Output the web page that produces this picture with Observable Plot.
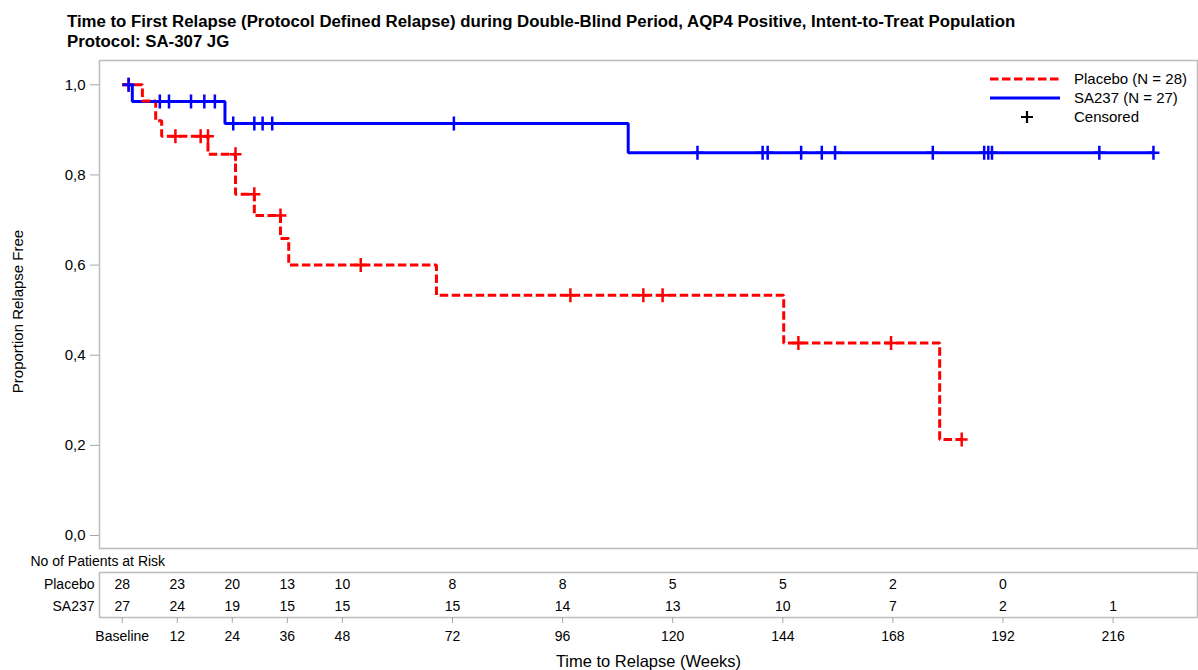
<!DOCTYPE html>
<html>
<head>
<meta charset="utf-8">
<script src="https://cdn.jsdelivr.net/npm/d3@7"></script>
<script src="https://cdn.jsdelivr.net/npm/@observablehq/plot@0.6"></script>
<style>
  body { margin: 0; background: #fff; }
  #wrap { position: relative; width: 1198px; height: 670px; overflow: hidden; background: #fff;
          font-family: "Liberation Sans", Arial, sans-serif; color: #000; }
  #title { position: absolute; left: 67px; top: 12px; font-weight: bold; font-size: 16.8px; line-height: 20px; white-space: nowrap; }
  #km { position: absolute; left: 0; top: 50px; }
  #risk { position: absolute; left: 0; top: 552px; }
  #legend { position: absolute; left: 980px; top: 65px; }
</style>
</head>
<body>
<div id="wrap">
  <div id="title">Time to First Relapse (Protocol Defined Relapse) during Double-Blind Period, AQP4 Positive, Intent-to-Treat Population<br>Protocol: SA-307 JG</div>
  <div id="km"></div>
  <div id="risk"></div>
  <div id="legend"></div>
</div>
<script>
// ---- Kaplan-Meier step data ----
const placeboTimes = [0, 4.4, 7.3, 8.6, 18.7, 24.7, 28.8, 34.5, 36.3, 68.5, 144.2, 178.2, 183.0];
const placeboSurv  = [1.000, 0.964, 0.920, 0.886, 0.846, 0.757, 0.710, 0.659, 0.600, 0.533, 0.427, 0.213, 0.213];
const sa237Times   = [0, 2.2, 22.4, 110.3, 224.8];
const sa237Surv    = [1.000, 0.963, 0.914, 0.849, 0.849];

// ---- Censored observations ----
const placeboCensTimes = [1.4, 11.6, 17.1, 18.7, 24.7, 28.8, 34.5, 52.0, 97.7, 113.6, 117.8, 147.4, 167.6, 183.0];
const placeboCensSurv  = [1.000, 0.886, 0.886, 0.886, 0.846, 0.757, 0.710, 0.600, 0.533, 0.533, 0.533, 0.427, 0.427, 0.213];
const sa237CensTimes = [1.4, 8.2, 10.2, 15.0, 17.9, 20.2, 24.2, 28.8, 30.6, 32.7, 72.3, 125.4, 139.6, 140.7, 148.0, 152.5, 155.4, 176.7, 187.9, 188.8, 189.6, 213.0, 224.8];
const sa237CensSurv  = [1.000, 0.963, 0.963, 0.963, 0.963, 0.963, 0.914, 0.914, 0.914, 0.914, 0.914, 0.849, 0.849, 0.849, 0.849, 0.849, 0.849, 0.849, 0.849, 0.849, 0.849, 0.849, 0.849];

// ---- Patients at risk ----
const riskWeeks      = [0, 12, 24, 36, 48, 72, 96, 120, 144, 168, 192, 216];
const placeboAtRisk  = [28, 23, 20, 13, 10, 8, 8, 5, 5, 2, 0];
const sa237AtRisk    = [27, 24, 19, 15, 15, 15, 14, 13, 10, 7, 2, 1];
const armNames       = ["Placebo", "SA237"];
const yTicks         = [0, 0.2, 0.4, 0.6, 0.8, 1.0];

const FONT = "Liberation Sans, Arial, sans-serif";
const RED = "#ff0000", BLUE = "#0000ff", GRID = "#bdbdbd", TICK = "#a6a6a6";
const xDomain = [-4.95, 234.4];

const toRows = (ts, ss) => ts.map((t, i) => ({t, s: ss[i]}));
const placeboData = toRows(placeboTimes, placeboSurv);
const sa237Data = toRows(sa237Times, sa237Surv);
const placeboCens = toRows(placeboCensTimes, placeboCensSurv);
const sa237Cens = toRows(sa237CensTimes, sa237CensSurv);

const riskRows = [
  ...placeboAtRisk.map((n, i) => ({arm: armNames[0], t: riskWeeks[i], n})),
  ...sa237AtRisk.map((n, i) => ({arm: armNames[1], t: riskWeeks[i], n}))
];

const plusSymbol = {
  draw(ctx, size) {
    const r = Math.sqrt(size / Math.PI);
    const h = r * 0.85;
    ctx.moveTo(-h, 0); ctx.lineTo(h, 0);
    ctx.moveTo(0, -r); ctx.lineTo(0, r);
  }
};

const km = Plot.plot({
  width: 1198, height: 505,
  marginTop: 10, marginBottom: 7, marginLeft: 99, marginRight: 1,
  x: {domain: xDomain, axis: null},
  y: {domain: [-0.0288, 1.0539], axis: null},
  style: {fontFamily: FONT, fontSize: "15px", color: "black", background: "transparent", overflow: "visible"},
  marks: [
    Plot.frame({stroke: GRID, strokeWidth: 1.5}),
    Plot.axisY({ticks: yTicks, tickFormat: d => d.toFixed(1).replace(".", ","), tickSize: 9, tickPadding: 5,
                stroke: TICK, fill: "black", fontSize: 15, label: null}),
    Plot.text(["Proportion Relapse Free"], {frameAnchor: "left", textAnchor: "middle", lineAnchor: "middle",
                rotate: -90, dx: -81, dy: 7, fontSize: 15, fill: "black"}),
    Plot.line(sa237Data, {x: "t", y: "s", curve: "step-after", stroke: BLUE, strokeWidth: 3,
                          strokeLinecap: "butt", strokeLinejoin: "miter"}),
    Plot.line(placeboData, {x: "t", y: "s", curve: "step-after", stroke: RED, strokeWidth: 3,
                            strokeDasharray: "8.5,3.5", strokeLinecap: "butt", strokeLinejoin: "miter"}),
    Plot.dot(placeboCens, {x: "t", y: "s", symbol: plusSymbol, r: 7, stroke: RED, strokeWidth: 2.5, fill: "none"}),
    Plot.dot(sa237Cens, {x: "t", y: "s", symbol: plusSymbol, r: 7, stroke: BLUE, strokeWidth: 2.5, fill: "none"})
  ]
});
document.getElementById("km").appendChild(km);

const risk = Plot.plot({
  width: 1198, height: 118,
  marginTop: 20, marginBottom: 53, marginLeft: 99, marginRight: 1,
  x: {domain: xDomain, axis: null},
  y: {domain: armNames, type: "band", padding: 0, axis: null},
  style: {fontFamily: FONT, fontSize: "14px", color: "black", background: "transparent", overflow: "visible"},
  marks: [
    Plot.frame({stroke: GRID, strokeWidth: 1.5}),
    Plot.axisY({tickSize: 0, tickPadding: 5, fontSize: 14, fill: "black", label: null}),
    Plot.axisX({ticks: riskWeeks, tickFormat: d => d === 0 ? "Baseline" : String(d), tickSize: 6, tickPadding: 8,
                stroke: TICK, fill: "black", fontSize: 14, label: null}),
    Plot.text(riskRows, {x: "t", y: "arm", text: "n", fontSize: 14, fill: "black"}),
    Plot.text(["Time to Relapse (Weeks)"], {frameAnchor: "bottom", lineAnchor: "middle", dy: 44, fontSize: 16.5, fill: "black"}),
    Plot.text(["No of Patients at Risk"], {frameAnchor: "top-left", lineAnchor: "middle", textAnchor: "start",
                dx: -69, dy: -11.3, fontSize: 14, fill: "black"})
  ]
});
document.getElementById("risk").appendChild(risk);

// ---- Legend ----
const leg = d3.select("#legend").append("svg").attr("width", 218).attr("height", 66)
  .style("font-family", FONT).style("font-size", "15px");
const legItems = [
  {label: "Placebo (N = 28)", kind: "line", color: RED, dash: "8.5,3.5"},
  {label: "SA237 (N = 27)", kind: "line", color: BLUE, dash: null},
  {label: "Censored", kind: "plus", color: "black"}
];
legItems.forEach((it, i) => {
  const y = 14 + i * 19;
  if (it.kind === "line") {
    leg.append("line").attr("x1", 10).attr("x2", 80).attr("y1", y).attr("y2", y)
      .attr("stroke", it.color).attr("stroke-width", 3).attr("stroke-dasharray", it.dash);
  } else {
    leg.append("path").attr("d", `M${47 - 6},${y}H${47 + 6}M47,${y - 6}V${y + 6}`)
      .attr("stroke", it.color).attr("stroke-width", 2.2).attr("fill", "none");
  }
  leg.append("text").attr("x", 94).attr("y", y).attr("dy", "0.35em").attr("fill", "black").text(it.label);
});
</script>
</body>
</html>
